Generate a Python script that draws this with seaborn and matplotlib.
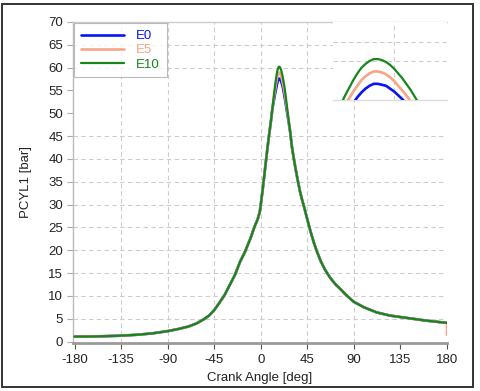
import matplotlib
matplotlib.use('Agg')
import matplotlib.pyplot as plt
from matplotlib.patches import Rectangle
import pandas as pd
import seaborn as sns

# E10 trace (all fuels overlap away from the peak)
crank_angle = [-180, -165, -150, -135, -120, -105, -90, -80, -70, -62,
               -55, -50, -45, -40, -35, -30, -25, -20, -15, -10,
               -6, -3, -1, 0, 1, 2, 4, 6, 8, 10,
               11, 12, 12.5, 13, 13.5, 14, 14.5, 15, 15.5, 16,
               16.5, 17, 17.5, 18, 18.5, 19, 19.5, 20, 20.5, 21,
               21.5, 22, 22.5, 23, 24, 25, 26, 27, 28.5, 30,
               32, 34, 36, 38, 40, 42, 44, 46, 48, 51,
               54, 58, 62, 67, 72, 77, 83, 90, 100, 112,
               125, 144, 160, 180]
pcyl_e10 = [1.1, 1.12, 1.2, 1.3, 1.5, 1.8, 2.3, 2.75, 3.3, 4.0,
            4.9, 5.7, 6.9, 8.5, 10.2, 12.4, 14.6, 17.5, 19.8, 22.6,
            25.2, 26.8, 28.4, 30.0, 31.8, 33.6, 37.6, 41.5, 45.2, 48.6,
            50.6, 52.6, 53.6, 54.6, 55.5, 56.4, 57.2, 58.0, 58.7, 59.3,
            59.7, 60.0, 60.2, 60.2, 60.1, 59.9, 59.6, 59.2, 58.7, 58.2,
            57.6, 57.0, 56.3, 55.6, 53.9, 52.0, 50.2, 48.4, 45.8, 42.8,
            40.0, 37.4, 35.0, 32.8, 31.0, 29.4, 27.6, 25.9, 24.2, 21.9,
            19.9, 17.6, 15.8, 14.0, 12.6, 11.5, 10.1, 8.7, 7.5, 6.4,
            5.7, 5.1, 4.6, 4.1]

# peak window where E0 and E5 separate from E10
peak_angle = [12, 12.5, 13, 13.5, 14, 14.5, 15, 15.5, 16, 16.5,
              17, 17.5, 18, 18.5, 19, 19.5, 20, 20.5, 21, 21.5,
              22, 22.5, 23, 24, 25, 26, 27]
pcyl_e0_peak = [52.0, 52.6, 53.2, 53.9, 54.5, 55.1, 55.6, 56.2, 56.7, 57.1,
                57.4, 57.6, 57.6, 57.5, 57.4, 57.1, 56.8, 56.4, 56.0, 55.5,
                54.9, 54.3, 53.6, 52.3, 50.8, 49.4, 48.0]
pcyl_e5_peak = [52.3, 53.1, 53.9, 54.7, 55.4, 56.1, 56.8, 57.4, 58.0, 58.4,
                58.7, 58.9, 58.9, 58.8, 58.6, 58.3, 57.9, 57.4, 56.9, 56.4,
                55.8, 55.2, 54.5, 53.0, 51.4, 49.8, 48.2]
# E5 trace ends with a drop at 180 deg
e5_end_angle = 180
e5_end_value = 1.5

series = ['E0', 'E5', 'E10']
colors = {'E0': '#0a14f5', 'E5': '#f7a586', 'E10': '#15861a'}
widths = {'E0': 1.9, 'E5': 1.9, 'E10': 1.6}

x_ticks = [-180, -135, -90, -45, 0, 45, 90, 135, 180]
y_ticks = list(range(0, 71, 5))
x_grid = [-135, -90, -45, 0, 45, 90]
y_grid = [5, 10, 15, 20, 25, 30, 35, 40, 45, 60, 65]


def with_peak(peak_values):
    lookup = dict(zip(peak_angle, peak_values))
    return [lookup.get(a, v) for a, v in zip(crank_angle, pcyl_e10)]


def main():
    sns.set_theme(style='white')
    plt.rcParams['font.family'] = ['Liberation Sans', 'DejaVu Sans']
    plt.rcParams['axes.unicode_minus'] = False

    frames = [
        pd.DataFrame({'angle': crank_angle, 'pcyl': with_peak(pcyl_e0_peak), 'fuel': 'E0'}),
        pd.DataFrame({'angle': crank_angle + [e5_end_angle],
                      'pcyl': with_peak(pcyl_e5_peak) + [e5_end_value], 'fuel': 'E5'}),
        pd.DataFrame({'angle': crank_angle, 'pcyl': pcyl_e10, 'fuel': 'E10'}),
    ]
    df = pd.concat(frames, ignore_index=True)

    fig = plt.figure(figsize=(4.8, 3.91), dpi=100)
    ax = fig.add_axes([73 / 480, 1 - 343 / 391, 374 / 480, 321 / 391])

    for name in series:
        sns.lineplot(data=df[df['fuel'] == name], x='angle', y='pcyl',
                     color=colors[name], linewidth=widths[name], sort=False,
                     estimator=None, label=name, ax=ax, zorder=3)

    grid_kw = dict(color='#cdcdcd', linewidth=0.8, dashes=(4, 3), zorder=1)
    for g in y_grid:
        ax.axhline(g, **grid_kw)
    for g in x_grid:
        ax.axvline(g, **grid_kw)

    ax.set_xlim(-181.5, 180)
    ax.set_ylim(-0.3, 70)
    ax.set_xticks(x_ticks)
    ax.set_yticks(y_ticks)
    ax.tick_params(axis='both', labelsize=9.5, colors='#222222', length=4,
                   width=0.8, direction='out', left=True, bottom=True, pad=3)
    ax.tick_params(axis='y', color='#aaaaaa')
    ax.tick_params(axis='x', color='#555555', pad=4)
    ax.set_xlabel('Crank Angle [deg]', fontsize=9.5, color='#222222', labelpad=4)
    ax.set_ylabel('PCYL1 [bar]', fontsize=9.5, color='#222222', labelpad=12)

    ax.spines['right'].set_visible(False)
    ax.spines['top'].set_color('#cccccc')
    ax.spines['top'].set_linewidth(1.0)
    ax.spines['left'].set_color('#bbbbbb')
    ax.spines['left'].set_linewidth(1.0)
    ax.spines['bottom'].set_color('#9a9a9a')
    ax.spines['bottom'].set_linewidth(2.0)

    leg = ax.legend(loc='upper left', fontsize=9.5, frameon=True, fancybox=False,
                    borderaxespad=0.1, handlelength=3.3, handletextpad=0.9,
                    labelspacing=0.15, borderpad=0.5, labelcolor='linecolor')
    leg.get_frame().set_edgecolor('#aaaaaa')
    leg.get_frame().set_linewidth(0.8)
    leg.set_zorder(5)

    # zoomed view of the peak
    ins = fig.add_axes([333 / 480, 1 - 100 / 391, 114 / 480, 78 / 391])
    ins.set_facecolor('white')
    for name in series:
        sns.lineplot(data=df[df['fuel'] == name], x='angle', y='pcyl',
                     color=colors[name], linewidth=widths[name], sort=False,
                     estimator=None, legend=False, ax=ins, zorder=3)
    ins.set_xlim(12.5, 26.5)
    ins.set_ylim(55.9, 64.1)
    for g in [60, 62]:
        ins.axhline(g, **grid_kw)
    ins.axvline(20, **grid_kw)
    ins.set_xticks([])
    ins.set_yticks([])
    ins.set_xlabel('')
    ins.set_ylabel('')
    for side in ['top', 'left', 'right']:
        ins.spines[side].set_visible(False)
    ins.spines['bottom'].set_color('#dddddd')
    ins.spines['bottom'].set_linewidth(1.0)

    fig.patches.append(Rectangle((2 / 480, 4 / 391), 471 / 480, 383 / 391,
                                 transform=fig.transFigure, fill=False,
                                 edgecolor='#333333', linewidth=1.4))

    fig.savefig('out.png', dpi=100)
    plt.close(fig)


if __name__ == '__main__':
    main()
